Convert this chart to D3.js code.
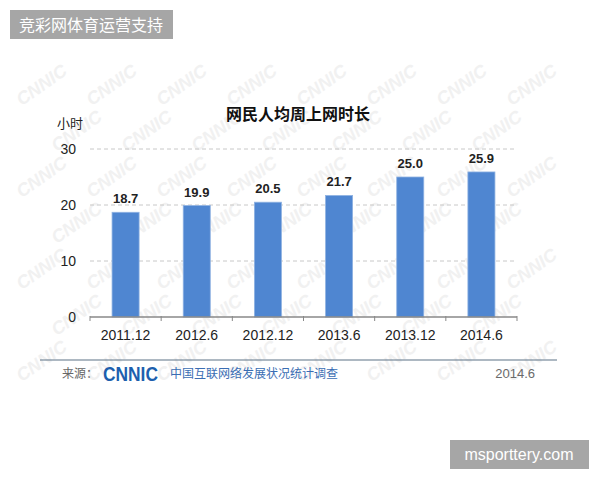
<!DOCTYPE html>
<html>
<head>
<meta charset="utf-8">
<script src="https://cdn.jsdelivr.net/npm/d3@7"></script>
<style>
  body { margin: 0; background: #fff; }
  svg { display: block; font-family: Arial, "Liberation Sans", "Noto Sans CJK SC", sans-serif; }
</style>
</head>
<body>
<div class="chart"></div>
<script>
// data
var periods = ['2011.12', '2012.6', '2012.12', '2013.6', '2013.12', '2014.6'];
var hours = [18.7, 19.9, 20.5, 21.7, 25.0, 25.9];
var yTicks = [0, 10, 20, 30];

var W = 600, H = 480;
var margin = { top: 149, right: 83, bottom: 163, left: 90 };
var width = W - margin.left - margin.right;
var height = H - margin.top - margin.bottom;

var root = d3.select('.chart')
  .append('svg')
  .attr('width', W)
  .attr('height', H);

// faint watermark behind everything, kept away from the edges
var wm = root.append('g').attr('class', 'watermark');
for (var r = 0; r < 7; r++) {
  for (var c = 0; c < 8; c++) {
    var wx = 45 + c * 70 + (r % 2) * 35;
    var wy = 90 + r * 46;
    if (wx > 560) continue;
    wm.append('text')
      .attr('transform', `translate(${wx}, ${wy}) rotate(-35)`)
      .attr('text-anchor', 'middle')
      .style('font-size', '18px')
      .style('font-weight', 'bold')
      .style('font-style', 'italic')
      .style('fill', '#f1f1f1')
      .text('CNNIC');
  }
}

var svg = root.append('g')
  .attr('transform', `translate(${margin.left}, ${margin.top})`);

var xScale = d3.scaleBand()
  .domain(periods)
  .range([0, width])
  .paddingInner(0.62)
  .paddingOuter(0.31);

var yScale = d3.scaleLinear()
  .domain([0, 30])
  .range([height, 0]);

// dashed grid lines
svg.selectAll('.grid')
  .data(yTicks.filter(d => d > 0))
  .enter()
  .append('line')
  .attr('class', 'grid')
  .attr('x1', 0)
  .attr('x2', width)
  .attr('y1', d => yScale(d))
  .attr('y2', d => yScale(d))
  .style('stroke', '#c8c8c8')
  .style('stroke-dasharray', '4,3');

// y tick labels
var yAxis = d3.axisLeft(yScale).tickValues(yTicks).tickSize(0).tickPadding(14);
svg.append('g')
  .call(yAxis)
  .call(g => g.select('.domain').remove())
  .selectAll('text')
  .style('font-size', '14px')
  .style('fill', '#222');

// bars
svg.selectAll('rect.bar')
  .data(hours)
  .enter()
  .append('rect')
  .attr('class', 'bar')
  .attr('x', (d, i) => xScale(periods[i]))
  .attr('y', d => yScale(d))
  .attr('width', xScale.bandwidth())
  .attr('height', d => height - yScale(d))
  .style('fill', '#4f86d1')
  .style('stroke', '#8fb2e2')
  .style('stroke-width', 0.8);

// value labels
svg.selectAll('text.val')
  .data(hours)
  .enter()
  .append('text')
  .attr('class', 'val')
  .attr('x', (d, i) => xScale(periods[i]) + xScale.bandwidth() / 2)
  .attr('y', d => yScale(d) - 9)
  .attr('text-anchor', 'middle')
  .style('font-size', '13px')
  .style('font-weight', 'bold')
  .style('fill', '#222')
  .text(d => d.toFixed(1));

// x axis: baseline with ticks at band edges
var step = xScale.step();
var edges = d3.range(periods.length + 1).map(i => i * step);
var xg = svg.append('g').attr('transform', `translate(0, ${height})`);
xg.append('line')
  .attr('x1', 0).attr('x2', width)
  .style('stroke', '#888').style('stroke-width', 1.5);
xg.selectAll('.tk')
  .data(edges)
  .enter()
  .append('line')
  .attr('x1', d => d).attr('x2', d => d)
  .attr('y1', -1).attr('y2', 4)
  .style('stroke', '#888');
xg.selectAll('.xl')
  .data(periods)
  .enter()
  .append('text')
  .attr('x', d => xScale(d) + xScale.bandwidth() / 2)
  .attr('y', 23)
  .attr('text-anchor', 'middle')
  .style('font-size', '14px')
  .style('fill', '#222')
  .text(d => d);

// title and unit
root.append('text')
  .attr('x', 298).attr('y', 120)
  .attr('text-anchor', 'middle')
  .style('font-size', '16px')
  .style('font-weight', 'bold')
  .style('fill', '#111')
  .text('网民人均周上网时长');

root.append('text')
  .attr('x', 57).attr('y', 128)
  .style('font-size', '13px')
  .style('fill', '#222')
  .text('小时');

// footer
root.append('line')
  .attr('x1', 40).attr('x2', 557)
  .attr('y1', 360).attr('y2', 360)
  .style('stroke', '#5d7385').style('stroke-width', 1.2);

root.append('text')
  .attr('x', 62).attr('y', 378)
  .style('font-size', '12px')
  .style('fill', '#666')
  .text('来源：');

root.append('text')
  .attr('x', 103).attr('y', 381)
  .attr('textLength', 55)
  .attr('lengthAdjust', 'spacingAndGlyphs')
  .style('font-size', '20px')
  .style('font-weight', '900')
  .style('fill', '#1d5fae')
  .text('CNNIC');

root.append('text')
  .attr('x', 170).attr('y', 378)
  .style('font-size', '12px')
  .style('fill', '#3a6db3')
  .text('中国互联网络发展状况统计调查');

root.append('text')
  .attr('x', 535).attr('y', 378)
  .attr('text-anchor', 'end')
  .style('font-size', '13px')
  .style('fill', '#6a6a6a')
  .text('2014.6');

// overlay tags
root.append('rect')
  .attr('x', 10).attr('y', 10).attr('width', 163).attr('height', 29)
  .style('fill', '#a6a6a6');
root.append('text')
  .attr('x', 91).attr('y', 31)
  .attr('text-anchor', 'middle')
  .style('font-size', '16px')
  .style('fill', '#fff')
  .text('竞彩网体育运营支持');

root.append('rect')
  .attr('x', 450).attr('y', 440).attr('width', 139).attr('height', 29)
  .style('fill', '#a6a6a6');
root.append('text')
  .attr('x', 519).attr('y', 460)
  .attr('text-anchor', 'middle')
  .style('font-size', '16px')
  .style('font-weight', 'normal')
  .style('fill', '#fff')
  .text('msporttery.com');
</script>
</body>
</html>
